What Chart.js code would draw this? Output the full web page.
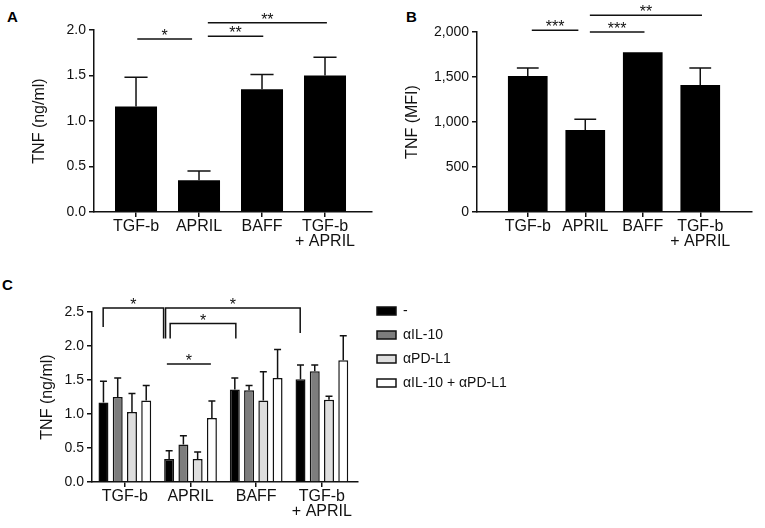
<!DOCTYPE html>
<html><head><meta charset="utf-8">
<script src="https://cdn.jsdelivr.net/npm/chart.js@4.4.1/dist/chart.umd.min.js"></script>
<style>
html,body{margin:0;padding:0;background:#fff;width:765px;height:528px;overflow:hidden;position:relative;font-family:"Liberation Sans",Arial,sans-serif}
canvas{position:absolute}
.lbl{position:absolute;font-weight:bold;font-size:15px;line-height:15px;color:#000}
</style></head><body>
<div class="lbl" style="left:7px;top:9px">A</div>
<div class="lbl" style="left:406px;top:9px">B</div>
<div class="lbl" style="left:2px;top:277px">C</div>
<canvas id="cA" width="380" height="265" style="left:0;top:0"></canvas>
<canvas id="cB" width="385" height="265" style="left:380px;top:0"></canvas>
<canvas id="cC" width="765" height="258" style="left:0;top:270px"></canvas>
<script>
// ---- data ----
const categories = ['TGF-b', 'APRIL', 'BAFF', ['TGF-b', '+ APRIL']];

const tnfA = [1.16, 0.35, 1.35, 1.50];
const semA = [0.32, 0.10, 0.16, 0.20];

const tnfB = [1510, 910, 1775, 1410];
const semB = [90, 120, 0, 190];

const seriesC = ['-', 'αIL-10', 'αPD-L1', 'αIL-10 + αPD-L1'];
const tnfC_none = [1.17, 0.34, 1.36, 1.51];
const tnfC_il10 = [1.25, 0.55, 1.35, 1.63];
const tnfC_pdl1 = [1.03, 0.34, 1.20, 1.21];
const tnfC_both = [1.20, 0.94, 1.53, 1.79];
const semC_none = [0.31, 0.12, 0.17, 0.21];
const semC_il10 = [0.28, 0.13, 0.07, 0.09];
const semC_pdl1 = [0.27, 0.10, 0.42, 0.05];
const semC_both = [0.22, 0.25, 0.42, 0.36];

// significance annotations (x in category units, y in data units)
const sigA = [
  {x1: 0.02, x2: 0.89, y: 1.90, label: '*'},
  {x1: 1.14, x2: 2.02, y: 1.93, label: '**'},
  {x1: 1.14, x2: 3.03, y: 2.08, label: '**'}
];
const sigB = [
  {x1: 0.07, x2: 0.88, y: 2020, label: '***'},
  {x1: 1.08, x2: 2.03, y: 2000, label: '***'},
  {x1: 1.08, x2: 3.03, y: 2185, label: '**'}
];
const sigC = [
  {x1: -0.33, x2: 0.59, y: 2.56, leg1: 2.28, leg2: 2.11, label: '*'},
  {x1: 0.62, x2: 2.67, y: 2.56, leg1: 2.11, leg2: 2.19, label: '*'},
  {x1: 0.69, x2: 1.69, y: 2.33, leg1: 2.11, leg2: 2.11, label: '*'},
  {x1: 0.64, x2: 1.31, y: 1.735, label: '*'}
];

// ---- helpers ----
const FAMILY = '"Liberation Sans", Arial, sans-serif';
Chart.defaults.font.family = FAMILY;
Chart.defaults.color = '#111';
const INK = '#111';

function pts(arr) { return arr.map((y, i) => ({x: i, y})); }

function overlay(errs, sig, capRatio) {
  return {
    id: 'overlay',
    afterDatasetsDraw(chart) {
      const ctx = chart.ctx, xs = chart.scales.x, ys = chart.scales.y;
      ctx.save();
      ctx.strokeStyle = INK; ctx.lineWidth = 1.5;
      chart.data.datasets.forEach((ds, d) => {
        const meta = chart.getDatasetMeta(d);
        meta.data.forEach((bar, i) => {
          const e = errs[d][i];
          if (!e) return;
          const yTop = ys.getPixelForValue(ds.data[i].y + e);
          const w = bar.width * capRatio;
          ctx.beginPath();
          ctx.moveTo(bar.x, bar.y); ctx.lineTo(bar.x, yTop);
          ctx.moveTo(bar.x - w / 2, yTop); ctx.lineTo(bar.x + w / 2, yTop);
          ctx.stroke();
        });
      });
      ctx.fillStyle = INK; ctx.font = '16px ' + FAMILY;
      ctx.textAlign = 'center'; ctx.textBaseline = 'alphabetic';
      sig.forEach(s => {
        const x1 = xs.getPixelForValue(s.x1), x2 = xs.getPixelForValue(s.x2), y = ys.getPixelForValue(s.y);
        ctx.beginPath();
        if (s.leg1 != null) { ctx.moveTo(x1, ys.getPixelForValue(s.leg1)); ctx.lineTo(x1, y); }
        else ctx.moveTo(x1, y);
        ctx.lineTo(x2, y);
        if (s.leg2 != null) ctx.lineTo(x2, ys.getPixelForValue(s.leg2));
        ctx.stroke();
        ctx.fillText(s.label, (x1 + x2) / 2, y + 2);
      });
      ctx.restore();
    }
  };
}

function xScale(min, max, h) {
  return {
    type: 'linear', min, max, offset: false,
    afterBuildTicks: s => { s.ticks = categories.map((_, i) => ({value: i})); },
    ticks: {autoSkip: false, maxRotation: 0, minRotation: 0, stepSize: 1, padding: 2, color: INK,
      font: {size: 16, lineHeight: 0.95}, callback: v => categories[v]},
    grid: {display: true, offset: false, drawOnChartArea: false, drawTicks: true, tickLength: 5, color: INK, lineWidth: 1.5},
    border: {display: true, color: INK, width: 1.5},
    afterFit: s => { s.height = h; }
  };
}

function yScale(max, step, fmt, title, titlePad, w) {
  return {
    type: 'linear', min: 0, max,
    ticks: {stepSize: step, callback: fmt, color: INK, font: {size: 14}, padding: 3},
    grid: {display: true, drawOnChartArea: false, drawTicks: true, tickLength: 5, color: INK, lineWidth: 1.5},
    border: {display: true, color: INK, width: 1.5},
    title: {display: true, text: title, color: INK, font: {size: 16}, padding: {top: titlePad, bottom: 0}},
    afterFit: s => { s.width = w; }
  };
}

const base = {responsive: false, animation: false, events: []};

// ---- Panel A ----
new Chart(document.getElementById('cA'), {
  type: 'bar',
  data: {datasets: [{data: pts(tnfA), backgroundColor: '#000', borderWidth: 0, barPercentage: 0.667, categoryPercentage: 1}]},
  options: Object.assign({}, base, {
    layout: {padding: {left: 0, top: 30, right: 8, bottom: 0}},
    plugins: {legend: {display: false}, tooltip: {enabled: false}},
    scales: {
      x: xScale(-0.667, 3.746, 53),
      y: yScale(2.0, 0.5, v => v.toFixed(1), 'TNF (ng/ml)', 30, 94)
    }
  }),
  plugins: [overlay([semA], sigA, 0.55)]
});

// ---- Panel B ----
new Chart(document.getElementById('cB'), {
  type: 'bar',
  data: {datasets: [{data: pts(tnfB), backgroundColor: '#000', borderWidth: 0, barPercentage: 0.69, categoryPercentage: 1}]},
  options: Object.assign({}, base, {
    layout: {padding: {left: 0, top: 32, right: 13, bottom: 0}},
    plugins: {legend: {display: false}, tooltip: {enabled: false}},
    scales: {
      x: xScale(-0.883, 3.90, 53),
      y: yScale(2000, 500, v => v.toLocaleString('en-US'), 'TNF (MFI)', 23, 97)
    }
  }),
  plugins: [overlay([semB], sigB, 0.55)]
});

// ---- Panel C ----
const LEG_FONT = 14, LEG_BOX = 19, LEG_PAD = 10;
// legend sits to the right of the plot, its first row level with the top tick
const legendPlace = {
  id: 'legendPlace',
  afterLayout(chart) {
    const l = chart.legend;
    if (!l) return;
    const w = l.width, h = l.height;
    l.left = chart.chartArea.right + 9; l.right = l.left + w;
    l.top = chart.chartArea.top - 18; l.bottom = l.top + h;
  }
};
const cDs = (label, data, fill) => ({label, data: pts(data), backgroundColor: fill, borderColor: INK,
  borderWidth: 1.5, borderSkipped: 'start', barPercentage: 0.7, categoryPercentage: 0.868});
new Chart(document.getElementById('cC'), {
  type: 'bar',
  data: {datasets: [
    cDs(seriesC[0], tnfC_none, '#000'),
    cDs(seriesC[1], tnfC_il10, '#7d7d7d'),
    cDs(seriesC[2], tnfC_pdl1, '#dedede'),
    cDs(seriesC[3], tnfC_both, '#ffffff')
  ]},
  options: Object.assign({}, base, {
    layout: {padding: {left: 0, top: 42, right: 407, bottom: 0}},
    plugins: {
      tooltip: {enabled: false},
      legend: {display: true, position: 'chartArea', align: 'start',
        labels: {boxWidth: LEG_BOX, boxHeight: 8, padding: LEG_PAD, color: INK, font: {size: LEG_FONT}}}
    },
    scales: {
      x: xScale(-0.5, 3.55, 46),
      y: yScale(2.5, 0.5, v => v.toFixed(1), 'TNF (ng/ml)', 38, 92)
    }
  }),
  plugins: [overlay([semC_none, semC_il10, semC_pdl1, semC_both], sigC, 0.7), legendPlace]
});
</script>
</body></html>
